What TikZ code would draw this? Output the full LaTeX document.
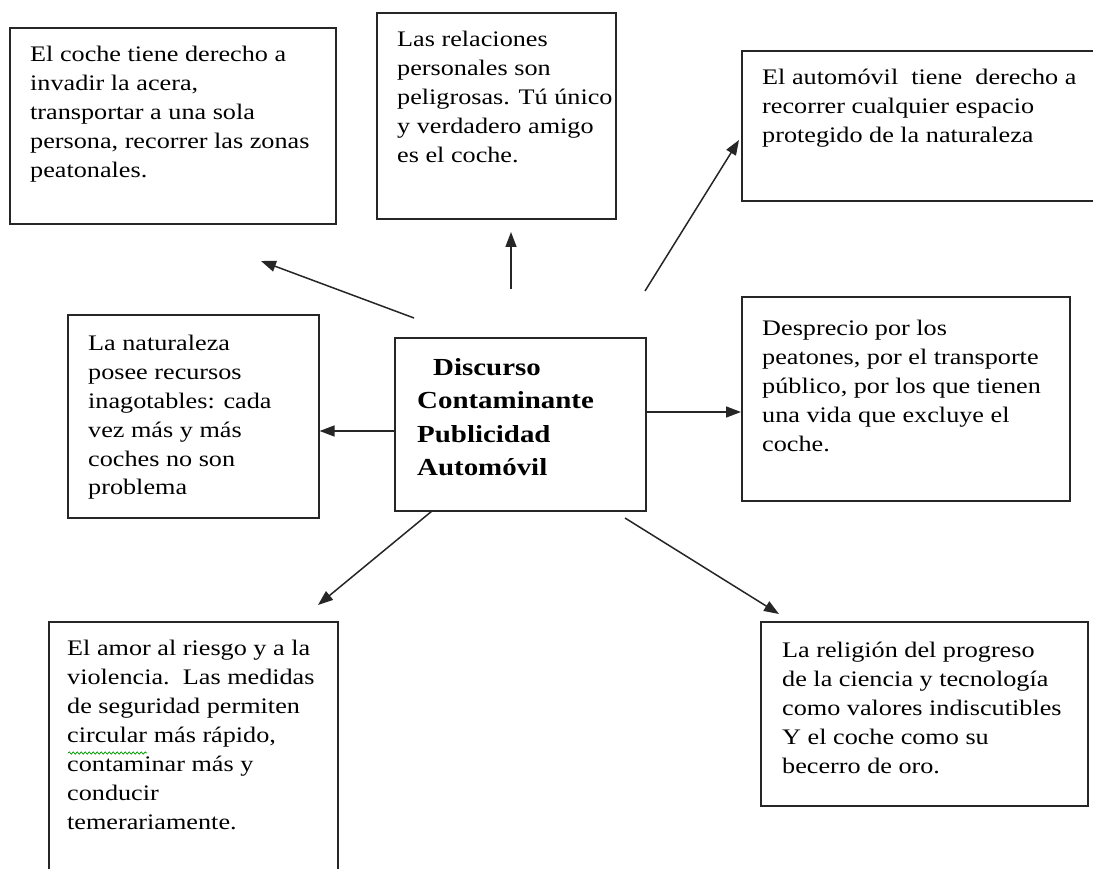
\documentclass[tikz,border=0pt]{standalone}
\usepackage{fontspec}
\setmainfont[FakeStretch=1.18]{Liberation Serif}
\usetikzlibrary{arrows.meta,decorations.pathmorphing}
\tikzset{
  box/.style={draw=black!85, line width=1.6pt, inner sep=0pt, anchor=north west},
  txt/.style={inner sep=0pt, anchor=base west, font=\fontsize{22.2}{29}\selectfont},
  ctxt/.style={inner sep=0pt, anchor=base west, font=\fontsize{24.5}{33.5}\selectfont\bfseries},
  conn/.style={line width=1.5pt, draw=black!85, -{Triangle[length=15pt,width=11pt]}},
  squiggle/.style={draw=green!60!black, line width=0.7pt, decorate, decoration={snake, amplitude=1.2pt, segment length=4pt}}
}
\newcommand{\mybox}[5]{\node[box, minimum width=#3pt, minimum height=#4pt] (#5) at (#1,#2) {};}
\begin{document}
\begin{tikzpicture}[x=1pt,y=-1pt]
\useasboundingbox (0,0) rectangle (1093,869);
\clip (0,0) rectangle (1093,869);
\fill[white] (0,0) rectangle (1093,869);
% boxes
\mybox{9}{27}{326}{196}{b1}
\mybox{376}{12}{239}{206}{b2}
\mybox{741}{50}{380}{150}{b3}
\mybox{67}{314}{251}{203}{b4}
\mybox{394}{337}{251}{173}{c}
\mybox{741}{296}{328}{204}{b6}
\mybox{48}{621}{289}{300}{b7}
\mybox{760}{621}{327}{184}{b8}
% texts
\node[txt, xshift=21pt, yshift=-35pt] (t1) at (b1.north west) {\parbox[t]{300pt}{El coche tiene derecho a\\ invadir la acera,\\ transportar a una sola\\ persona, recorrer las zonas\\ peatonales.}};
\node[txt, xshift=21pt, yshift=-35pt] (t2) at (b2.north west) {\parbox[t]{260pt}{Las relaciones\\ personales son\\ peligrosas. Tú único\\ y verdadero amigo\\ es el coche.}};
\node[txt, xshift=21pt, yshift=-35pt] (t3) at (b3.north west) {\parbox[t]{400pt}{El automóvil\ \ tiene\ \ derecho a\\ recorrer cualquier espacio\\ protegido de la naturaleza}};
\node[txt, xshift=21pt, yshift=-36pt] (t4) at (b4.north west) {\parbox[t]{280pt}{La naturaleza\\ posee recursos\\ inagotables: cada\\ vez más y más\\ coches no son\\ problema}};
\node[ctxt, xshift=23pt, yshift=-38pt] (tc) at (c.north west) {\parbox[t]{280pt}{\hspace*{16pt}Discurso\\ Contaminante\\ Publicidad\\ Automóvil}};
\node[txt, xshift=21pt, yshift=-39pt] (t6) at (b6.north west) {\parbox[t]{380pt}{Desprecio por los\\ peatones, por el transporte\\ público, por los que tienen\\ una vida que excluye el\\ coche.}};
\node[txt, xshift=19pt, yshift=-34pt] (t7) at (b7.north west) {\parbox[t]{320pt}{El amor al riesgo y a la\\ violencia.\ \ Las medidas\\ de seguridad permiten\\ circular más rápido,\\ contaminar más y\\ conducir\\ temerariamente.}};
\node[txt, xshift=22pt, yshift=-36pt] (t8) at (b8.north west) {\parbox[t]{380pt}{La religión del progreso\\ de la ciencia y tecnología\\ como valores indiscutibles\\ Y el coche como su\\ becerro de oro.}};
% spell-check squiggle under "circular"
\coordinate (sq1) at (68,753);
\coordinate (sq2) at (147,753);
\draw[squiggle] (sq1) -- (sq2);
% connector ends
\coordinate (a1s) at (414,318);
\coordinate (a1e) at (261,261);
\coordinate (a2s) at (511,289);
\coordinate (a2e) at (511,232);
\coordinate (a3s) at (645,291);
\coordinate (a3e) at (739,140);
\coordinate (a6s) at (432,511);
\coordinate (a6e) at (318,605);
\coordinate (a7s) at (625,518);
\coordinate (a7e) at (779,614);
\draw[conn] (a1s) -- (a1e);
\draw[conn] (a2s) -- (a2e);
\draw[conn] (a3s) -- (a3e);
\draw[conn] (c.west |- 0,431) -- (b4.east |- 0,431);
\draw[conn] (c.east |- 0,412) -- (b6.west |- 0,412);
\draw[conn] (a6s) -- (a6e);
\draw[conn] (a7s) -- (a7e);
\end{tikzpicture}
\end{document}
